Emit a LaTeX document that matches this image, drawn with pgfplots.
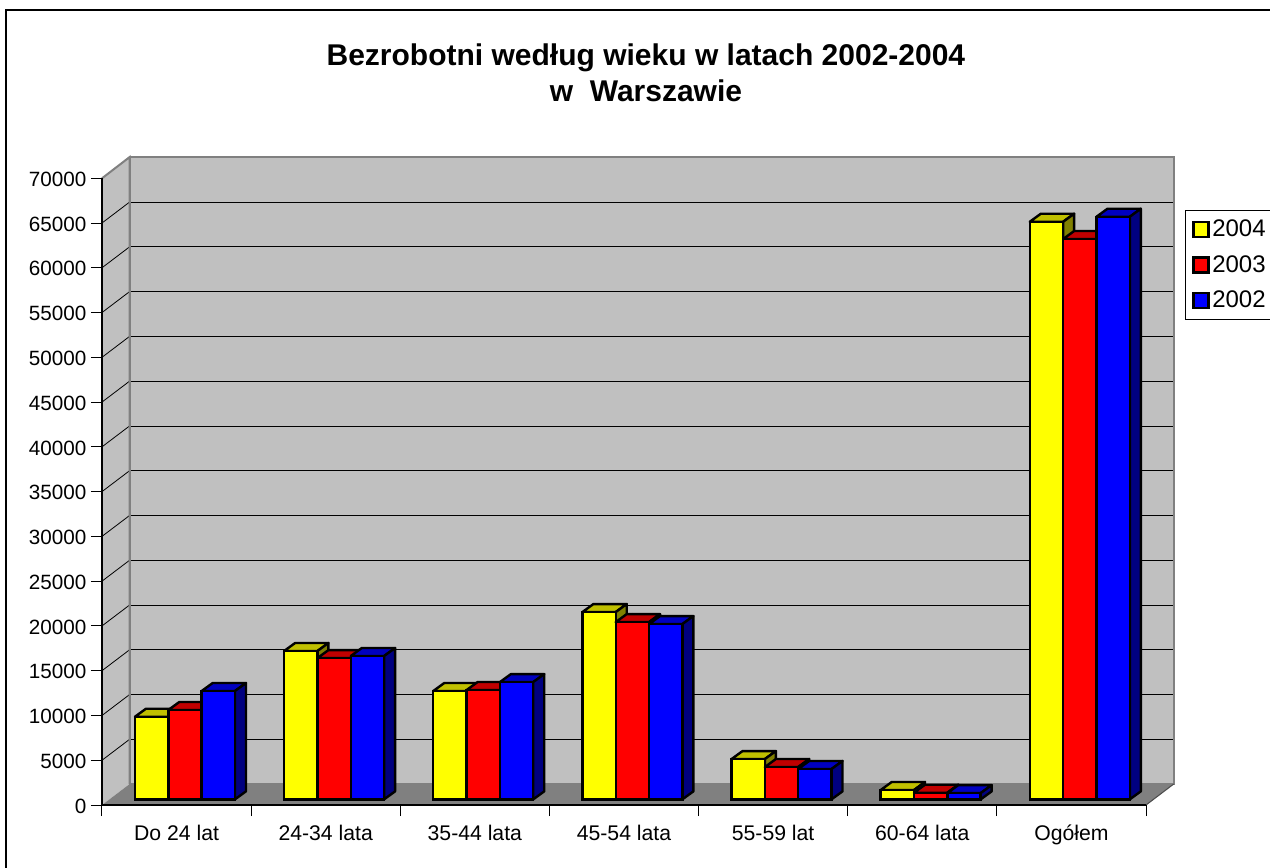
\documentclass[border=0pt]{standalone}
\usepackage{fontspec}
\setmainfont{Liberation Sans}
\usepackage{pgfplots}
\usepackage{pgfplotstable}
\pgfplotsset{compat=1.18}

% 1 image pixel = 0.75pt throughout
\definecolor{wall}{HTML}{C0C0C0}
\definecolor{floorgray}{HTML}{808080}
\definecolor{fronty}{HTML}{FFFF00}
\definecolor{frontr}{HTML}{FF0000}
\definecolor{frontb}{HTML}{0000FF}
\definecolor{topy}{HTML}{C0C000}
\definecolor{sidey}{HTML}{808000}
\definecolor{topr}{HTML}{C00000}
\definecolor{sider}{HTML}{800000}
\definecolor{topb}{HTML}{0000C0}
\definecolor{sideb}{HTML}{000080}

\pgfplotstableread{
cat  y2004  y2003  y2002
0    9230   9980   12100
1    16570  15780  16010
2    12100  12210  13100
3    20920  19800  19580
4    4500   3610   3390
5    1040   740    700
6    64520  62590  65080
}\bardata

\pgfplotsset{
  plane/.style={
    scale only axis, width=783pt, height=470pt,
    ymin=0, ymax=70000, clip=false, scaled y ticks=false, scaled x ticks=false,
  },
  % top and side of a bar, drawn at the bar's top centre: #1 shift, #2 top, #3 side
  depth faces/.style n args={3}{
    forget plot, only marks, scatter, mark=*, mark size=0pt,
    visualization depends on={rawy \as \barval},
    scatter/@pre marker code/.code={
      \begingroup
      \pgfkeys{/pgf/fpu=true,/pgf/fpu/output format=fixed}
      \pgfmathparse{\barval*470/70000}
      \global\let\barh\pgfmathresult
      \endgroup
      \pgfmathsetlengthmacro\xl{(#1-12.5)*1pt}
      \pgfmathsetlengthmacro\xr{(#1+12.5)*1pt}
      \begin{scope}[line width=1.8pt, draw=black, line join=round]
        \filldraw[fill=#2] (\xl,0pt) -- ++(8.25pt,6pt) -- ++(25pt,0pt) -- ++(-8.25pt,-6pt) -- cycle;
        \filldraw[fill=#3] (\xr,0pt) -- ++(8.25pt,6pt) -- ++(0pt,{-\barh*1pt}) -- ++(-8.25pt,-6pt) -- cycle;
    },
    scatter/@post marker code/.code={\end{scope}},
  },
  front bar/.style n args={2}{
    ybar, bar width=25pt, bar shift=#1pt, fill=#2, draw=black, line width=1.8pt,
    legend image code/.code={
      \draw[fill=#2, draw=black, line width=1.8pt] (0pt,-5.6pt) rectangle (11.2pt,5.6pt);
    },
  },
}

\begin{document}
\begin{tikzpicture}
\useasboundingbox (0pt,0pt) rectangle (952.5pt,-650.25pt);
\clip (0pt,0pt) rectangle (952.5pt,-650.25pt);

% chart frame, left wall and floor
\begin{scope}[x=0.75pt,y=-0.75pt]
  \draw[black, line width=0.8pt] (6,10) rectangle (1300,900);
  \fill[wall] (102,178.3) -- (129.7,157) -- (129.7,784) -- (102,805) -- cycle;
  \fill[floorgray] (102,805) -- (129.7,784) -- (1173.7,784) -- (1146,805) -- cycle;
\end{scope}

% back wall with the gridlines
\begin{axis}[plane,
  at={(97.275pt,-588pt)}, anchor=south west,
  axis background/.style={fill=wall},
  axis line style={draw=floorgray, line width=1.5pt},
  xmin=0, xmax=7, xtick=\empty,
  ytick={0,5000,...,70000}, yticklabels={},
  ymajorgrids, grid style={black, line width=0.6pt},
  major tick length=0pt,
]
\end{axis}

% gridlines on the left wall, and the floor's right edge
\begin{scope}[x=0.75pt,y=-0.75pt]
  \foreach \k in {1,...,13}
    \draw[black, line width=0.6pt] (102,805-\k*44.77) -- (129.7,784-\k*44.77);
  \draw[floorgray, line width=1.5pt] (102,178.3) -- (129.7,157) -- (129.7,784);
  \draw[floorgray!60!black, line width=0.8pt] (1146,805) -- (1173.7,784);
\end{scope}

% front plane: ticks and labels
\begin{axis}[plane,
  at={(76.5pt,-603.75pt)}, anchor=south west,
  axis x line*=bottom, axis y line*=left,
  axis line style={draw=black, line width=0.9pt, -},
  xmin=0, xmax=7,
  xtick={0,...,7}, x tick label as interval,
  xticklabels={Do 24 lat,24-34 lata,35-44 lata,45-54 lata,55-59 lat,60-64 lata,Ogółem},
  ytick={0,5000,...,70000},
  /pgf/number format/assume math mode=true,
  /pgf/number format/1000 sep={},
  tick align=outside, major tick length=8.25pt,
  tick style={black, line width=0.75pt},
  x tick label style={font=\fontsize{15.9pt}{18pt}\selectfont, yshift=-3pt},
  y tick label style={font=\fontsize{15.5pt}{18pt}\selectfont, yshift=-0.75pt},
  title={Bezrobotni według wieku w latach 2002-2004\\w\ \ Warszawie},
  title style={at={(0.521,1.156)}, anchor=center, align=center, yshift=0pt,
    font=\fontsize{22.5pt}{27pt}\selectfont\bfseries},
]
\end{axis}

% the bars
\begin{axis}[plane,
  at={(82.8pt,-599.5pt)}, anchor=south west,
  hide axis, clip marker paths=true,
  xmin=-0.5, xmax=6.5,
  legend style={at={(1.0295,0.9403)}, anchor=north west, draw=black, line width=0.6pt,
    font=\fontsize{18pt}{20pt}\selectfont, row sep=8.6pt, inner xsep=5pt, inner ysep=5.2pt},
  legend cell align=left,
]
\addplot[depth faces={-25}{topy}{sidey}] table[x=cat, y=y2004] {\bardata};
\addplot[front bar={-25}{fronty}] table[x=cat, y=y2004] {\bardata};
\addlegendentry{2004}
\addplot[depth faces={0}{topr}{sider}] table[x=cat, y=y2003] {\bardata};
\addplot[front bar={0}{frontr}] table[x=cat, y=y2003] {\bardata};
\addlegendentry{2003}
\addplot[depth faces={25}{topb}{sideb}] table[x=cat, y=y2002] {\bardata};
\addplot[front bar={25}{frontb}] table[x=cat, y=y2002] {\bardata};
\addlegendentry{2002}
\end{axis}
\end{tikzpicture}
\end{document}
